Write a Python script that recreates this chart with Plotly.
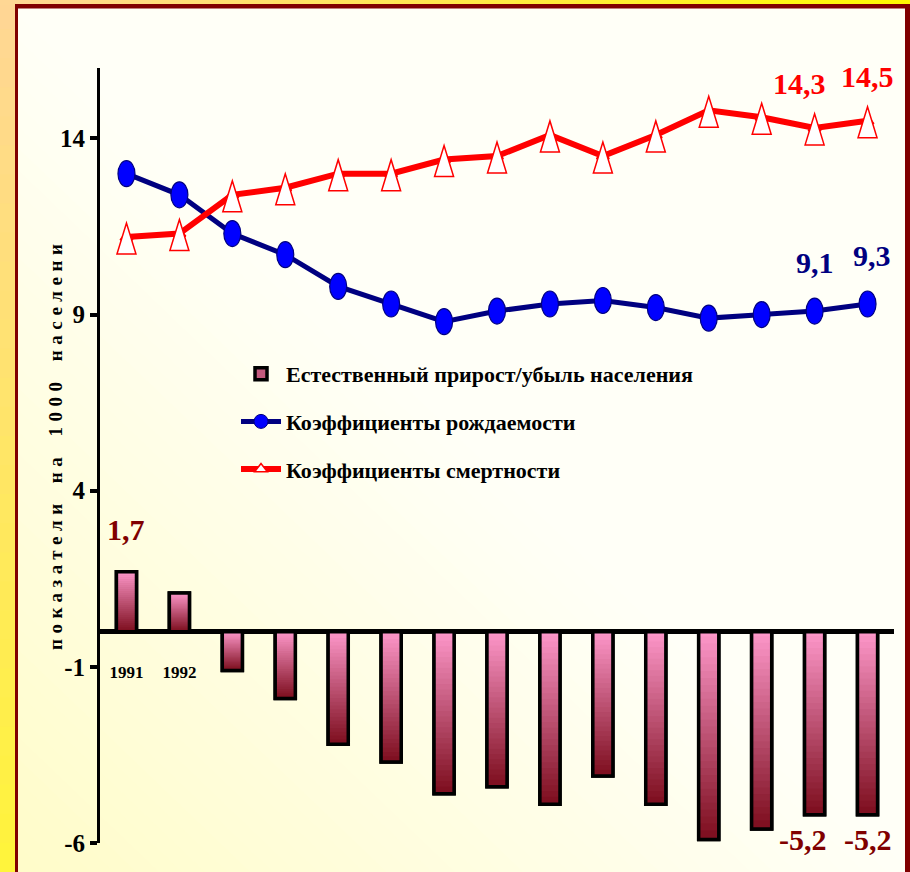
import plotly.graph_objects as go

# ---- data: demographic rates, per 1000 population ----
YEARS = list(range(1991, 2006))
NATURAL_INCREASE = [1.7, 1.1, -1.1, -1.9, -3.2, -3.7, -4.6, -4.4, -4.9, -4.1, -4.9, -5.9, -5.6, -5.2, -5.2]
BIRTH_RATE = [13.0, 12.4, 11.3, 10.7, 9.8, 9.3, 8.8, 9.1, 9.3, 9.4, 9.2, 8.9, 9.0, 9.1, 9.3]
DEATH_RATE = [11.2, 11.3, 12.4, 12.6, 13.0, 13.0, 13.4, 13.5, 14.1, 13.5, 14.1, 14.8, 14.6, 14.3, 14.5]

Y_TICKS = [-6, -1, 4, 9, 14]
AXIS_YEARS = [1991, 1992]          # year captions that stay visible under the axis
BAR_LABEL_YEARS = [1991, 2004, 2005]
LINE_LABEL_YEARS = [2004, 2005]

NAME_INCREASE = "Естественный прирост/убыль населения"
NAME_BIRTH = "Коэффициенты рождаемости"
NAME_DEATH = "Коэффициенты смертности"
Y_TITLE = "показатели на 1000 населени"

# ---- geometry / style ----
W, H = 910, 872
PLOT_L, PLOT_R, PLOT_T, PLOT_B = 100, 894, 68, 843
Y_RANGE = [-6, 16]
X_RANGE = [1990.5, 2005.5]
BAR_W = 0.38
FONT = "Liberation Serif, Times New Roman, serif"

NAVY = "#000080"
BLUE = "#0000FF"
RED = "#FF0000"
MAROON = "#800000"


def mix(c1, c2, t):
    r = [round(a + (b - a) * t) for a, b in zip(c1, c2)]
    return "rgb({},{},{})".format(*r)


def fmt(v):
    return f"{v:.1f}".replace(".", ",")


# ---- background: gradient frame and panel ----
shapes = []
PANEL_YEL = (255, 252, 200)
PANEL_WHT = (255, 255, 247)
NB = 40
for k in range(NB):
    a, b = k / NB, (k + 1) / NB + 0.002
    shapes.append(dict(
        type="path", xref="paper", yref="paper", layer="below",
        path=f"M {a+3},-3 L {a-3},3 L {b-3},3 L {b+3},-3 Z",
        fillcolor=mix(PANEL_YEL, PANEL_WHT, (k + 0.5) / NB), line=dict(width=0)))

PEACH = (255, 214, 150)
YEL_L = (255, 244, 58)
YEL_T = (255, 250, 0)
NS = 30
for k in range(NS):
    shapes.append(dict(
        type="rect", xref="paper", yref="paper", layer="below",
        x0=0, x1=16 / W, y0=1 - (k + 1) / NS - 0.002, y1=1 - k / NS,
        fillcolor=mix(PEACH, YEL_L, (k + 0.5) / NS), line=dict(width=0)))
    shapes.append(dict(
        type="rect", xref="paper", yref="paper", layer="below",
        x0=k / NS, x1=(k + 1) / NS + 0.002, y0=1 - 5 / H, y1=1,
        fillcolor=mix(PEACH, YEL_T, (k + 0.5) / NS), line=dict(width=0)))

for x0, x1, y0, y1 in [(15, 18, 5, H), (15, 910, 4, 8.5), (905, 910, 4, H)]:
    shapes.append(dict(
        type="rect", xref="paper", yref="paper", layer="below",
        x0=x0 / W, x1=x1 / W, y0=1 - y1 / H, y1=1 - y0 / H,
        fillcolor=MAROON, line=dict(width=0)))

# ---- markers drawn as tall glyphs anchored at the data points ----
for yr, v in zip(YEARS, BIRTH_RATE):
    shapes.append(dict(
        type="circle", xref="x", yref="y", xsizemode="pixel", ysizemode="pixel",
        xanchor=yr, yanchor=v, x0=-8.5, x1=8.5, y0=-13, y1=13,
        fillcolor=BLUE, line=dict(color=NAVY, width=1.2), layer="above"))
for yr, v in zip(YEARS, DEATH_RATE):
    shapes.append(dict(
        type="path", xref="x", yref="y", xsizemode="pixel", ysizemode="pixel",
        xanchor=yr, yanchor=v, path="M -9.5,-17 L 9.5,-17 L 0,14 Z",
        fillcolor="white", line=dict(color=RED, width=1.5), layer="above"))

# ---- bars with a vertical pink-to-maroon gradient ----
PINK = (255, 153, 204)
DARK = (125, 14, 30)
N = 30
sx, sbase, sh, scol = [], [], [], []
for yr, v in zip(YEARS, NATURAL_INCREASE):
    top, bot = max(v, 0), min(v, 0)
    span = top - bot
    for k in range(N):
        hi = top - span * k / N
        lo = top - span * (k + 1) / N
        ext = span * 0.01 if k > 0 else 0
        sx.append(yr)
        sbase.append(lo)
        sh.append(hi - lo + ext)
        scol.append(mix(PINK, DARK, (k + 0.5) / N))

fig = go.Figure()
fig.add_trace(go.Bar(
    x=YEARS, y=NATURAL_INCREASE, width=BAR_W, name=NAME_INCREASE,
    marker=dict(color=mix(PINK, DARK, 0.45), line=dict(color="black", width=3.5)),
    legendgroup="a", hoverinfo="skip"))
fig.add_trace(go.Bar(
    x=sx, y=sh, base=sbase, width=BAR_W, showlegend=False,
    marker=dict(color=scol, line=dict(width=0)), hoverinfo="skip"))
fig.add_trace(go.Bar(
    x=YEARS, y=NATURAL_INCREASE, width=BAR_W, showlegend=False,
    marker=dict(color="rgba(0,0,0,0)", line=dict(color="black", width=3.5)),
    hoverinfo="skip"))
fig.add_trace(go.Scatter(
    x=YEARS, y=BIRTH_RATE, mode="lines+markers", name=NAME_BIRTH,
    line=dict(color=NAVY, width=5),
    marker=dict(symbol="circle", size=14, color=BLUE, line=dict(color=NAVY, width=1)),
    legendgroup="b"))
fig.add_trace(go.Scatter(
    x=YEARS, y=DEATH_RATE, mode="lines+markers", name=NAME_DEATH,
    line=dict(color=RED, width=6),
    marker=dict(symbol="triangle-up", size=11, color="white", line=dict(color=RED, width=1.5)),
    legendgroup="c"))

# ---- value labels ----
annotations = []
label_font = dict(family=FONT, size=30, weight="bold")
shift_x = {("bar", 2004): -12, ("death", 2004): -15, ("birth", 2005): 4}
for yr in BAR_LABEL_YEARS:
    v = NATURAL_INCREASE[YEARS.index(yr)]
    annotations.append(dict(
        x=yr, y=v, xref="x", yref="y", text=fmt(v), showarrow=False,
        yshift=42 if v > 0 else -25, xshift=shift_x.get(("bar", yr), 0),
        font=dict(label_font, color=MAROON)))
for yr in LINE_LABEL_YEARS:
    v = BIRTH_RATE[YEARS.index(yr)]
    annotations.append(dict(
        x=yr, y=v, xref="x", yref="y", text=fmt(v), showarrow=False,
        yshift=49, xshift=shift_x.get(("birth", yr), 0),
        font=dict(label_font, color=NAVY)))
    v = DEATH_RATE[YEARS.index(yr)]
    annotations.append(dict(
        x=yr, y=v, xref="x", yref="y", text=fmt(v), showarrow=False,
        yshift=44, xshift=shift_x.get(("death", yr), 0),
        font=dict(label_font, color=RED)))

annotations.append(dict(
    x=55 / W, y=1 - 445 / H, xref="paper", yref="paper", showarrow=False,
    xanchor="center", yanchor="middle", textangle=-90,
    text=f'<span style="letter-spacing:5.5px; word-spacing:5px">{Y_TITLE}</span>',
    font=dict(family=FONT, size=19, color="black", weight="bold")))

ydom = [1 - PLOT_B / H, 1 - PLOT_T / H]
zero_pos = ydom[0] + (0 - Y_RANGE[0]) / (Y_RANGE[1] - Y_RANGE[0]) * (ydom[1] - ydom[0])
tick_font = dict(family=FONT, size=25, color="black", weight="bold")

fig.update_layout(
    template="none",
    width=W, height=H, autosize=False,
    margin=dict(l=0, r=0, t=0, b=0, pad=0),
    paper_bgcolor="rgb(255,255,247)", plot_bgcolor="rgba(0,0,0,0)",
    barmode="overlay",
    shapes=shapes, annotations=annotations,
    showlegend=True,
    legend=dict(
        x=236 / W, y=1 - 353 / H, xanchor="left", yanchor="top",
        bgcolor="rgba(0,0,0,0)", traceorder="grouped", tracegroupgap=16,
        itemwidth=40, font=dict(family=FONT, size=22, color="black", weight="bold")),
    xaxis=dict(
        domain=[PLOT_L / W, PLOT_R / W], range=X_RANGE,
        tickvals=AXIS_YEARS, ticktext=[str(y) for y in AXIS_YEARS],
        ticks="", showgrid=False, zeroline=False, showline=False,
        anchor="free", position=zero_pos, ticklabelstandoff=28, automargin=False,
        tickfont=dict(family=FONT, size=17, color="black", weight="bold"),
        fixedrange=True),
    yaxis=dict(
        domain=ydom, range=Y_RANGE, tickvals=Y_TICKS,
        ticktext=[str(t) for t in Y_TICKS],
        ticks="outside", ticklen=7, tickwidth=4, tickcolor="black",
        showline=True, linewidth=3, linecolor="black",
        showgrid=False, zeroline=True, zerolinewidth=5, zerolinecolor="black",
        tickfont=tick_font, ticklabelstandoff=0, automargin=False, fixedrange=True),
    yaxis2=dict(
        domain=ydom, range=Y_RANGE, overlaying="y", anchor="x", side="left",
        tickvals=Y_TICKS, ticks="inside", ticklen=7, tickwidth=4, tickcolor="black",
        showticklabels=False, showline=False, showgrid=False, zeroline=False,
        automargin=False, fixedrange=True),
)

fig.write_html("out.html")
